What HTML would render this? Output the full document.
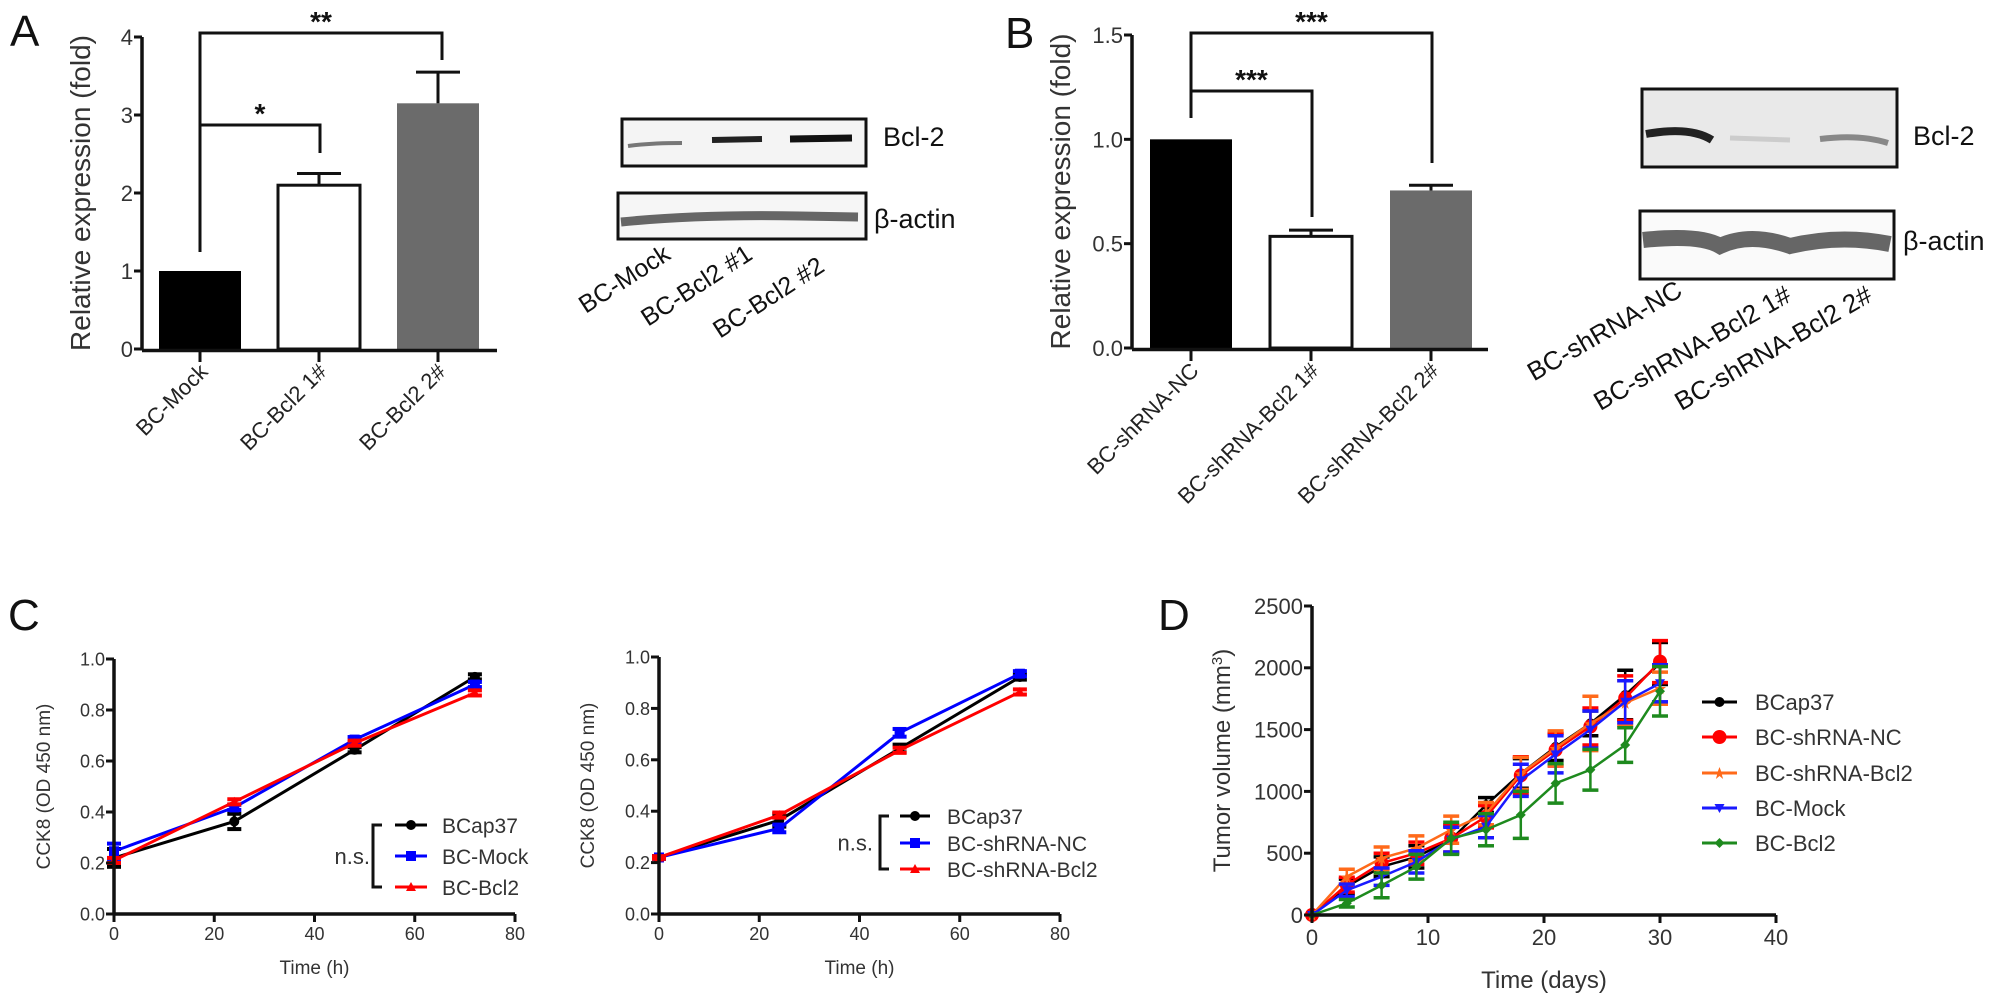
<!DOCTYPE html>
<html><head><meta charset="utf-8"><style>
html,body{margin:0;padding:0;background:#fff;}
svg{display:block;font-family:"Liberation Sans",Arial,sans-serif;}
</style></head><body>
<svg id="fig" width="2008" height="1007" viewBox="0 0 2008 1007">
<g id="static" fill="#111">
 <text x="10" y="46" font-size="44">A</text>
 <text x="1005" y="48" font-size="44">B</text>
 <text x="8" y="630" font-size="44">C</text>
 <text x="1158" y="630" font-size="44">D</text>
 <!-- blot A -->
 <g>
  <rect x="622" y="119" width="244" height="47" fill="#f4f4f4" stroke="#111" stroke-width="3"/>
  <path d="M628 146 Q650 143 682 143" stroke="#777" stroke-width="4" fill="none"/>
  <path d="M712 140 L762 139" stroke="#222" stroke-width="6" fill="none"/>
  <path d="M790 139 L852 138" stroke="#111" stroke-width="7" fill="none"/>
  <rect x="618" y="193" width="248" height="46" fill="#f6f6f6" stroke="#111" stroke-width="3"/>
  <path d="M621 222 Q700 214 800 216 L858 217" stroke="#666" stroke-width="9" fill="none"/>
  <text x="883" y="146" font-size="27">Bcl-2</text>
  <text x="874" y="228" font-size="27">β-actin</text>
  <text transform="translate(672,258) rotate(-33)" text-anchor="end" font-size="25">BC-Mock</text>
  <text transform="translate(754,258) rotate(-33)" text-anchor="end" font-size="25">BC-Bcl2 #1</text>
  <text transform="translate(826,270) rotate(-33)" text-anchor="end" font-size="25">BC-Bcl2  #2</text>
 </g>
 <!-- blot B -->
 <g>
  <rect x="1642" y="89" width="255" height="78" fill="#e9e9e9" stroke="#111" stroke-width="3"/>
  <path d="M1646 134 Q1690 126 1712 140" stroke="#222" stroke-width="8" fill="none"/>
  <path d="M1730 138 L1790 140" stroke="#ccc" stroke-width="5" fill="none"/>
  <path d="M1820 139 Q1860 134 1888 143" stroke="#888" stroke-width="6" fill="none"/>
  <rect x="1640" y="211" width="254" height="68" fill="#fafafa" stroke="#111" stroke-width="3"/>
  <path d="M1643 240 Q1700 234 1720 246 Q1750 232 1790 246 Q1840 234 1890 244" stroke="#666" stroke-width="16" fill="none"/>
  <text x="1913" y="145" font-size="27">Bcl-2</text>
  <text x="1903" y="250" font-size="27">β-actin</text>
  <text transform="translate(1684,295) rotate(-30)" text-anchor="end" font-size="26">BC-shRNA-NC</text>
  <text transform="translate(1793,300) rotate(-30)" text-anchor="end" font-size="26">BC-shRNA-Bcl2 1#</text>
  <text transform="translate(1874,300) rotate(-30)" text-anchor="end" font-size="26">BC-shRNA-Bcl2 2#</text>
 </g>
</g>
<g id="charts"></g>
</svg>
<script>
// ---------- Panel A data ----------
const aCategories = ["BC-Mock", "BC-Bcl2 1#", "BC-Bcl2 2#"];
const aValues = [1.0, 2.1, 3.15];
const aErrors = [0, 0.15, 0.4];
const aTicks = [0, 1, 2, 3, 4];
// ---------- Panel B data ----------
const bCategories = ["BC-shRNA-NC", "BC-shRNA-Bcl2 1#", "BC-shRNA-Bcl2 2#"];
const bValues = [1.0, 0.535, 0.755];
const bErrors = [0, 0.03, 0.025];
const bTicks = ["0.0", "0.5", "1.0", "1.5"];
// ---------- Panel C data ----------
const cTimes = [0, 24, 48, 72];
const cXTicks = [0, 20, 40, 60, 80];
const cYTicks = ["0.0", "0.2", "0.4", "0.6", "0.8", "1.0"];
const c1Names = ["BCap37", "BC-Mock", "BC-Bcl2"];
const c1BCap37 = [0.22, 0.363, 0.644, 0.93];
const c1Mock = [0.246, 0.418, 0.684, 0.90];
const c1Bcl2 = [0.21, 0.44, 0.67, 0.867];
const c1Err = [0.035, 0.03, 0.01, 0.01];
const c2Names = ["BCap37", "BC-shRNA-NC", "BC-shRNA-Bcl2"];
const c2BCap37 = [0.22, 0.365, 0.644, 0.922];
const c2NC = [0.22, 0.333, 0.705, 0.935];
const c2Bcl2 = [0.22, 0.385, 0.637, 0.864];
const c2Err = [0.005, 0.025, 0.015, 0.01];
// ---------- Panel D data ----------
const dDays = [0, 3, 6, 9, 12, 15, 18, 21, 24, 27, 30];
const dXTicks = [0, 10, 20, 30, 40];
const dYTicks = [0, 500, 1000, 1500, 2000, 2500];
const dNames = ["BCap37", "BC-shRNA-NC", "BC-shRNA-Bcl2", "BC-Mock", "BC-Bcl2"];
const dBCap37 = [0, 230, 390, 470, 610, 890, 1145, 1360, 1550, 1780, 2035];
const dNC = [0, 245, 420, 500, 620, 795, 1130, 1335, 1525, 1755, 2050];
const dShBcl2 = [0, 310, 460, 540, 690, 820, 1145, 1350, 1550, 1715, 1835];
const dMock = [0, 200, 310, 430, 610, 715, 1090, 1300, 1500, 1725, 1875];
const dBcl2 = [0, 95, 240, 390, 620, 690, 810, 1065, 1175, 1375, 1810];
const dErrBCap37 = [0, 60, 80, 90, 110, 60, 120, 110, 100, 200, 170];
const dErrNC = [0, 60, 80, 90, 110, 90, 150, 130, 150, 180, 170];
const dErrShBcl2 = [0, 60, 90, 100, 110, 90, 130, 140, 220, 180, 130];
const dErrMock = [0, 50, 70, 90, 100, 90, 130, 150, 150, 170, 150];
const dErrBcl2 = [0, 30, 100, 100, 130, 130, 190, 160, 165, 140, 200];

const NS = "http://www.w3.org/2000/svg";
const root = document.getElementById("charts");
function mk(tag, attrs, parent) {
  const e = document.createElementNS(NS, tag);
  for (const k in attrs) e.setAttribute(k, attrs[k]);
  (parent || root).appendChild(e);
  return e;
}
function line(x1, y1, x2, y2, w, c, p) { return mk("line", {x1, y1, x2, y2, stroke: c || "#111", "stroke-width": w || 3}, p); }

// ---------- bar chart ----------
function barChart(o) {
  const g = mk("g", {});
  
  
  const y = v => o.y0 - (v / o.max) * (o.y0 - o.yTop);
  const cx = i => o.c0 + i * o.step;
  o.values.forEach((v, i) => {
    const r = mk("rect", {x: cx(i) - 41, y: y(v), width: 82, height: o.y0 - y(v), fill: o.fills[i], stroke: "#111", "stroke-width": o.fills[i] === "#fff" ? 3 : 0}, g);
    
    
    if (o.errors[i] > 0) {
      line(cx(i), y(v), cx(i), y(v + o.errors[i]), 3, "#111", g);
      line(cx(i) - 22, y(v + o.errors[i]), cx(i) + 22, y(v + o.errors[i]), 3, "#111", g);
    }
    line(cx(i), o.y0, cx(i), o.y0 + 13, 3, "#111", g);
    const t = mk("text", {transform: `translate(${cx(i) + 9},${o.y0 + 24}) rotate(-45)`, "text-anchor": "end", "font-size": 22, fill: "#222"}, g);
    t.textContent = o.cats[i];
    
    
  });
  line(o.ax, o.y0 + 1.5, o.xEnd, o.y0 + 1.5, 3.5, "#111", g);
  line(o.ax, o.y0, o.ax, o.yTop, 3.5, "#111", g);
  o.ticks.forEach(t => {
    const yy = y(parseFloat(t));
    line(o.ax - 8, yy, o.ax, yy, 3, "#111", g);
    const tx = mk("text", {x: o.ax - 9, y: yy + 8, "text-anchor": "end", "font-size": 22, fill: "#333"}, g);
    tx.textContent = t;
    
    
  });
  const ttl = mk("text", {transform: `translate(${o.titleX},${(o.y0 + o.yTop) / 2}) rotate(-90)`, "text-anchor": "middle", "font-size": 28, fill: "#333"}, g);
  ttl.textContent = "Relative expression (fold)";
  
  
  return {g, y, cx};
}
function bracket(g, x1, x2, yTop, y1b, y2b, label) {
  mk("polyline", {points: `${x1},${y1b} ${x1},${yTop} ${x2},${yTop} ${x2},${y2b}`, fill: "none", stroke: "#111", "stroke-width": 3}, g);
  const t = mk("text", {x: (x1 + x2) / 2, y: yTop - 2, "text-anchor": "middle", "font-size": 28, "font-weight": "bold", fill: "#111"}, g);
  t.textContent = label;
  
  
}
const A = barChart({name: "bar-chart-a", cats: aCategories, values: aValues, errors: aErrors, ticks: aTicks.map(String), max: 4, y0: 349, yTop: 37, ax: 142, xEnd: 497, c0: 200, step: 119, fills: ["#000", "#fff", "#6b6b6b"], titleX: 90});
bracket(A.g, 200, 320, 125, 252, 153, "*");
bracket(A.g, 200, 442, 33, 252, 60, "**");
const B = barChart({name: "bar-chart-b", cats: bCategories, values: bValues, errors: bErrors, ticks: bTicks, max: 1.5, y0: 348, yTop: 35, ax: 1132, xEnd: 1488, c0: 1191, step: 120, fills: ["#000", "#fff", "#6b6b6b"], titleX: 1070});
bracket(B.g, 1191, 1312, 91, 118, 217, "***");
bracket(B.g, 1191, 1432, 33, 118, 163, "***");

// ---------- markers ----------
function marker(g, shape, x, y, c, s) {
  let m;
  if (shape === "circle") m = mk("circle", {cx: x, cy: y, r: s, fill: c}, g);
  else if (shape === "square") m = mk("rect", {x: x - s, y: y - s, width: 2 * s, height: 2 * s, fill: c}, g);
  else if (shape === "tri") m = mk("polygon", {points: `${x},${y - s} ${x - s},${y + s * 0.8} ${x + s},${y + s * 0.8}`, fill: c}, g);
  else if (shape === "dtri") m = mk("polygon", {points: `${x},${y + s} ${x - s},${y - s * 0.8} ${x + s},${y - s * 0.8}`, fill: c}, g);
  else if (shape === "star") m = mk("polygon", {points: `${x},${y - s} ${x + s * 0.3},${y - s * 0.2} ${x + s},${y - s * 0.2} ${x + s * 0.4},${y + s * 0.3} ${x + s * 0.6},${y + s} ${x},${y + s * 0.5} ${x - s * 0.6},${y + s} ${x - s * 0.4},${y + s * 0.3} ${x - s},${y - s * 0.2} ${x - s * 0.3},${y - s * 0.2}`, fill: c}, g);
  else m = mk("polygon", {points: `${x},${y - s} ${x + s},${y} ${x},${y + s} ${x - s},${y}`, fill: c}, g);
  
  
}

// ---------- line chart ----------
function lineChart(o) {
  const g = mk("g", {});
  
  
  const X = v => o.x0 + (v - o.xMin) / (o.xMax - o.xMin) * (o.x1 - o.x0);
  const Y = v => o.y0 - (v - o.yMin) / (o.yMax - o.yMin) * (o.y0 - o.y1);
  o.series.forEach((s, si) => {
    const sg = mk("g", {}, g);
    
    
    s.vals.forEach((v, i) => {
      const e = s.err[i];
      if (e > 0) {
        line(X(o.xs[i]), Y(v - e), X(o.xs[i]), Y(v + e), o.lw, s.color, sg);
        line(X(o.xs[i]) - o.cap, Y(v + e), X(o.xs[i]) + o.cap, Y(v + e), o.lw + 1, s.color, sg);
        line(X(o.xs[i]) - o.cap, Y(v - e), X(o.xs[i]) + o.cap, Y(v - e), o.lw + 1, s.color, sg);
      }
    });
    const p = mk("polyline", {points: s.vals.map((v, i) => X(o.xs[i]) + "," + Y(v)).join(" "), fill: "none", stroke: s.color, "stroke-width": o.lw}, sg);
    
    
    s.vals.forEach((v, i) => marker(sg, s.shape, X(o.xs[i]), Y(v), s.color, s.size));
    // legend
    const ly = o.legY[si];
    line(o.legX, ly, o.legX + o.legW, ly, 3, s.color, g);
    marker(g, s.shape, o.legX + o.legW / 2, ly, s.color, s.size);
    const t = mk("text", {x: o.legTextX, y: ly + 8, "font-size": o.legFont, fill: "#333"}, g);
    t.textContent = s.label;
    
    
  });
  line(o.x0, o.y0, o.x1, o.y0, 3.5, "#111", g);
  line(o.x0, o.y0 + 1.5, o.x0, o.y1, 3.5, "#111", g);
  o.xTicks.forEach(t => {
    line(X(t), o.y0, X(t), o.y0 + 8, 3, "#111", g);
    const tx = mk("text", {x: X(t), y: o.y0 + o.tickFont + 8, "text-anchor": "middle", "font-size": o.tickFont, fill: "#333"}, g);
    tx.textContent = t;
    
    
  });
  o.yTicks.forEach(t => {
    const yy = Y(parseFloat(t));
    line(o.x0 - 8, yy, o.x0, yy, 3, "#111", g);
    const tx = mk("text", {x: o.x0 - 9, y: yy + o.tickFont * 0.36, "text-anchor": "end", "font-size": o.tickFont, fill: "#333"}, g);
    tx.textContent = t;
    
    
  });
  const xt = mk("text", {x: (o.x0 + o.x1) / 2, y: o.xTitleY, "text-anchor": "middle", "font-size": o.titleFont, fill: "#333"}, g);
  xt.textContent = o.xTitle;
  
  
  const yt = mk("text", {transform: `translate(${o.yTitleX},${(o.y0 + o.y1) / 2}) rotate(-90)`, "text-anchor": "middle", "font-size": o.titleFont, fill: "#333"}, g);
  yt.innerHTML = o.yTitle;
  
  
  return g;
}
function nsBracket(g, x, yA, yB, tx) {
  mk("polyline", {points: `${x + 9},${yA} ${x},${yA} ${x},${yB} ${x + 9},${yB}`, fill: "none", stroke: "#111", "stroke-width": 3}, g);
  const t = mk("text", {x: tx, y: (yA + yB) / 2 + 8, "text-anchor": "end", "font-size": 22, fill: "#333"}, g);
  t.textContent = "n.s.";
  
  
}
const C1 = lineChart({name: "line-chart-c-left", xs: cTimes, xMin: 0, xMax: 80, yMin: 0, yMax: 1, x0: 114, x1: 515, y0: 914, y1: 659,
  xTicks: cXTicks, yTicks: cYTicks, lw: 3, cap: 7, tickFont: 18, titleFont: 19, xTitle: "Time (h)", xTitleY: 974, yTitle: "CCK8 (OD 450 nm)", yTitleX: 50,
  legX: 395, legW: 32, legTextX: 442, legY: [825, 856, 887], legFont: 21,
  series: [
    {label: c1Names[0], vals: c1BCap37, err: c1Err, color: "#000", shape: "circle", size: 5},
    {label: c1Names[1], vals: c1Mock, err: [0.03, 0.01, 0.01, 0.01], color: "#0000ff", shape: "square", size: 5},
    {label: c1Names[2], vals: c1Bcl2, err: [0.01, 0.01, 0.01, 0.01], color: "#ff0000", shape: "tri", size: 5}]});
nsBracket(C1, 373, 825, 887, 370);
const C2 = lineChart({name: "line-chart-c-right", xs: cTimes, xMin: 0, xMax: 80, yMin: 0, yMax: 1, x0: 659, x1: 1060, y0: 914, y1: 657,
  xTicks: cXTicks, yTicks: cYTicks, lw: 3, cap: 7, tickFont: 18, titleFont: 19, xTitle: "Time (h)", xTitleY: 974, yTitle: "CCK8 (OD 450 nm)", yTitleX: 594,
  legX: 900, legW: 30, legTextX: 947, legY: [816, 843, 869], legFont: 21,
  series: [
    {label: c2Names[0], vals: c2BCap37, err: c2Err, color: "#000", shape: "circle", size: 5},
    {label: c2Names[1], vals: c2NC, err: [0.005, 0.015, 0.015, 0.01], color: "#0000ff", shape: "square", size: 5},
    {label: c2Names[2], vals: c2Bcl2, err: [0.005, 0.01, 0.01, 0.01], color: "#ff0000", shape: "tri", size: 5}]});
nsBracket(C2, 880, 816, 869, 873);
lineChart({name: "line-chart-d", xs: dDays, xMin: 0, xMax: 40, yMin: 0, yMax: 2500, x0: 1312, x1: 1776, y0: 915, y1: 606,
  xTicks: dXTicks, yTicks: dYTicks.map(String), lw: 2.5, cap: 8, tickFont: 22, titleFont: 24, xTitle: "Time (days)", xTitleY: 988,
  yTitle: 'Tumor volume (mm<tspan baseline-shift="super" font-size="15">3</tspan>)', yTitleX: 1230,
  legX: 1702, legW: 35, legTextX: 1755, legY: [702, 737, 773, 808, 843], legFont: 22,
  series: [
    {label: dNames[0], vals: dBCap37, err: dErrBCap37, color: "#000", shape: "circle", size: 5},
    {label: dNames[1], vals: dNC, err: dErrNC, color: "#ff0000", shape: "circle", size: 7},
    {label: dNames[2], vals: dShBcl2, err: dErrShBcl2, color: "#ff6a1a", shape: "star", size: 6},
    {label: dNames[3], vals: dMock, err: dErrMock, color: "#1a1aff", shape: "dtri", size: 5},
    {label: dNames[4], vals: dBcl2, err: dErrBcl2, color: "#1e8a1e", shape: "diamond", size: 5}]});
</script>
</body></html>
